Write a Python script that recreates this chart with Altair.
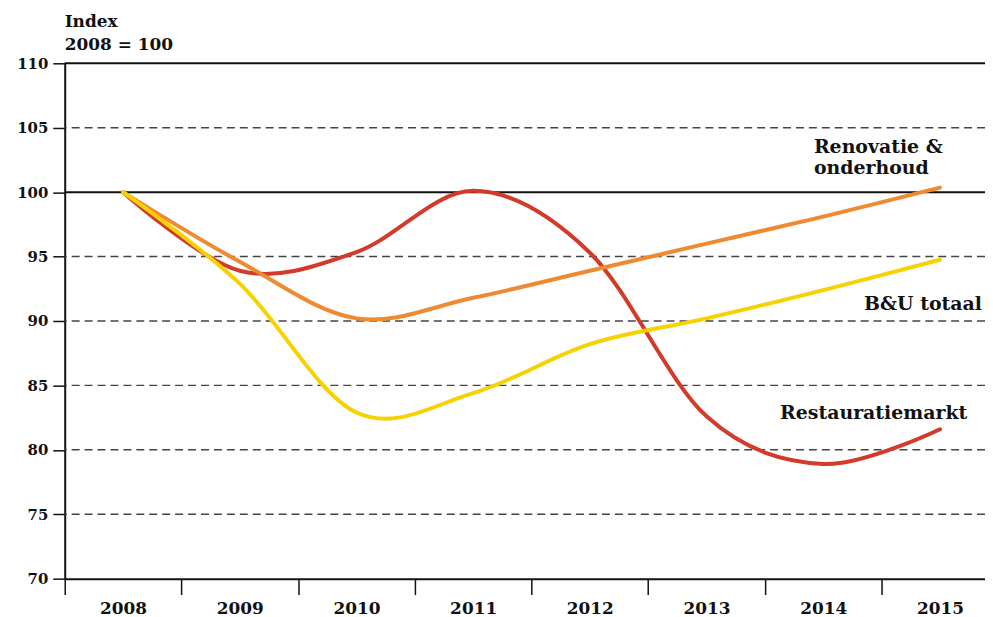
import altair as alt
import pandas as pd

years = [2008, 2009, 2010, 2011, 2012, 2013, 2014, 2015]
restauratie = [100, 93.9, 95.35, 100.1, 95.3, 82.6, 78.9, 81.6]
bu_totaal = [100, 92.9, 82.9, 84.4, 88.2, 90.2, 92.4, 94.75]
renovatie = [100, 94.6, 90.2, 91.8, 93.9, 96.0, 98.1, 100.35]

series_names = ["Restauratiemarkt", "Renovatie & onderhoud", "B&U totaal"]
series_colors = ["#D33A2A", "#EF8A32", "#F8D100"]

dashed_grid = [75, 80, 85, 90, 95, 105]
solid_grid = [100, 110]
y_ticks = [70, 75, 80, 85, 90, 95, 100, 105, 110]
x_ticks = [2007.5, 2008, 2008.5, 2009, 2009.5, 2010, 2010.5, 2011, 2011.5,
           2012, 2012.5, 2013, 2013.5, 2014, 2014.5, 2015]

ann_text = ["Renovatie &", "onderhoud", "B&U totaal", "Restauratiemarkt"]
ann_x = [2013.92, 2013.92, 2014.35, 2013.63]
ann_y = [103.03, 101.41, 90.85, 82.36]

FONT = "DejaVu Serif"

rows = []
for name, vals in zip(series_names, [restauratie, renovatie, bu_totaal]):
    for yr, v in zip(years, vals):
        rows.append({"year": yr, "value": v, "series": name})
df = pd.DataFrame(rows)

xscale = alt.Scale(domain=[2007.5, 2015.386], nice=False, zero=False)
yscale = alt.Scale(domain=[70, 110], nice=False, zero=False)

x_axis = alt.Axis(values=x_ticks,
                  labelExpr="datum.value % 1 == 0 ? format(datum.value, 'd') : ''",
                  tickOpacity={"condition": {"test": "datum.value % 1 != 0", "value": 1}, "value": 0},
                  tickSize=16, tickColor="#111111", tickWidth=1.5,
                  domainColor="#111111", domainWidth=2,
                  labelFont=FONT, labelFontSize=17, labelFontWeight="bold",
                  labelColor="#111111", labelPadding=6, labelOverlap=False,
                  grid=False)
y_axis = alt.Axis(values=y_ticks, tickSize=12, tickColor="#111111", tickWidth=1.5,
                  domainColor="#111111", domainWidth=2,
                  labelFont=FONT, labelFontSize=15, labelFontWeight="bold",
                  labelColor="#111111", labelPadding=5, grid=False)

dash = alt.Chart(pd.DataFrame({"v": dashed_grid})).mark_rule(
    color="#444444", strokeWidth=1.4, strokeDash=[8, 5]
).encode(y=alt.Y("v:Q", scale=yscale, axis=y_axis, title=None))

solid = alt.Chart(pd.DataFrame({"v": solid_grid})).mark_rule(
    color="#111111", strokeWidth=2
).encode(y=alt.Y("v:Q", scale=yscale, axis=y_axis, title=None))

lines = alt.Chart(df).mark_line(
    interpolate="cardinal", strokeWidth=4, strokeCap="round"
).encode(
    x=alt.X("year:Q", scale=xscale, title=None, axis=x_axis),
    y=alt.Y("value:Q", scale=yscale, title=None, axis=y_axis),
    color=alt.Color("series:N", scale=alt.Scale(domain=series_names, range=series_colors), legend=None),
    order=alt.Order("year:Q"),
)

ann = alt.Chart(pd.DataFrame({"t": ann_text, "x": ann_x, "y": ann_y})).mark_text(
    align="left", baseline="alphabetic", font=FONT, fontSize=19, fontWeight="bold", color="#111111"
).encode(
    x=alt.X("x:Q", scale=xscale, axis=x_axis, title=None),
    y=alt.Y("y:Q", scale=yscale, axis=y_axis, title=None),
    text="t:N",
)

chart = alt.layer(dash, solid, lines, ann).properties(
    width=925, height=518,
    padding={"left": 57, "top": 54, "right": 0, "bottom": 46},
    autosize=alt.AutoSizeParams(type="none"),
    title=alt.TitleParams(text=["Index", "2008 = 100"], anchor="start", frame="group",
                          font=FONT, fontSize=17, fontWeight="bold", color="#111111",
                          lineHeight=23, offset=2),
).configure_view(stroke=None)

chart.save("out.html", embed_options={"renderer": "svg", "actions": False})
